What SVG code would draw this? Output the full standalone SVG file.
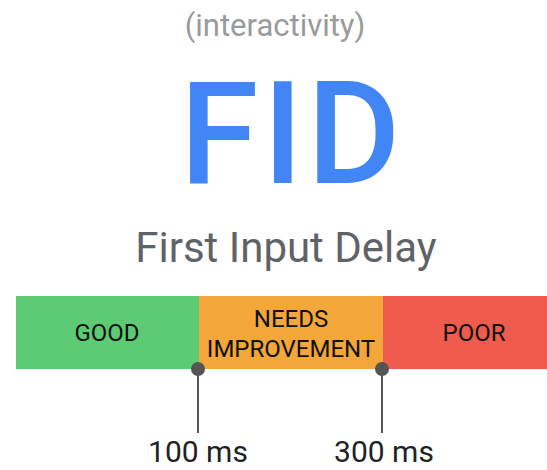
<svg xmlns="http://www.w3.org/2000/svg" width="547" height="470" viewBox="0 0 547 470">
<style>
.t{font-family:"Roboto","Liberation Sans",sans-serif;text-anchor:middle}
.lbl{font-size:24px;fill:#111}
.ms{font-size:30px;fill:#222}
.tick{stroke:#555;stroke-width:2}
</style>
<rect width="547" height="470" fill="#fff"/>
<text class="t" x="275" y="36" font-size="31" fill="#9a9a9a">(interactivity)</text>
<text class="t" x="292" y="183" font-size="143" font-weight="500" letter-spacing="4" fill="#4285f4">FID</text>
<text class="t" x="286" y="262" font-size="42" fill="#5f6368">First Input Delay</text>
<g id="good"><rect x="16" y="296" width="183" height="73" fill="#5ccb74"/><text class="t lbl" x="107" y="341">GOOD</text></g>
<g id="needs"><rect x="199" y="296" width="184" height="73" fill="#f3a63a"/><text class="t lbl" x="291" y="327">NEEDS</text><text class="t lbl" x="291" y="357">IMPROVEMENT</text></g>
<g id="poor"><rect x="383" y="296" width="164" height="73" fill="#ef5b4c"/><text class="t lbl" x="474" y="341">POOR</text></g>
<g id="connectors">
<line class="tick" x1="198" y1="369" x2="198" y2="433"/>
<circle cx="198" cy="369" r="7" fill="#555"/>
<line class="tick" x1="382" y1="369" x2="382" y2="433"/>
<circle cx="382" cy="369" r="7" fill="#555"/>
</g>
<text class="t ms" x="198" y="462">100 ms</text>
<text class="t ms" x="384" y="462">300 ms</text>
</svg>
